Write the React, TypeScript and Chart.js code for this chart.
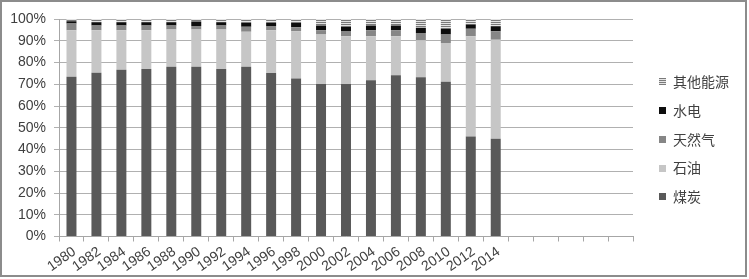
import { useEffect, useRef } from 'react';
import { Chart, registerables } from 'chart.js';

Chart.register(...registerables);

const years = ['1980', '1982', '1984', '1986', '1988', '1990', '1992', '1994', '1996', '1998', '2000', '2002', '2004', '2006', '2008', '2010', '2012', '2014'];
const emptyCategories = ['', '', '', '', ''];
const categories = [...years, ...emptyCategories];

const coal = [73.5, 75.3, 76.7, 77.0, 78.0, 78.0, 77.0, 78.1, 75.2, 72.7, 70.1, 70.1, 71.8, 74.1, 73.2, 71.2, 46.0, 44.9];
const oil = [21.3, 19.5, 18.1, 17.8, 17.2, 17.2, 18.2, 16.0, 19.6, 21.7, 22.8, 22.0, 20.3, 18.0, 17.0, 17.8, 46.1, 45.6];
const gas = [3.1, 2.2, 2.2, 2.2, 1.8, 1.6, 1.8, 2.3, 2.0, 1.8, 1.9, 2.1, 2.7, 2.7, 3.4, 3.9, 3.4, 3.9];
const hydro = [1.1, 1.5, 1.5, 1.5, 1.5, 2.0, 1.5, 1.8, 1.4, 2.0, 2.2, 2.2, 2.2, 2.2, 2.4, 2.6, 2.0, 2.3];
const other = [1.0, 1.5, 1.5, 1.5, 1.5, 1.2, 1.5, 1.8, 1.8, 1.8, 3.0, 3.6, 3.0, 3.0, 4.0, 4.5, 2.5, 3.3];

const seriesNames = ['煤炭', '石油', '天然气', '水电', '其他能源'];
const yTicks = [0, 10, 20, 30, 40, 50, 60, 70, 80, 90, 100];

function makeStripePattern(): CanvasPattern | string {
  const c = document.createElement('canvas');
  c.width = 2;
  c.height = 2;
  const g = c.getContext('2d');
  if (!g) return '#aaaaaa';
  g.fillStyle = '#e4e4e4';
  g.fillRect(0, 0, 2, 2);
  g.fillStyle = '#7a7a7a';
  g.fillRect(0, 0, 2, 1);
  const p = g.createPattern(c, 'repeat');
  return p || '#aaaaaa';
}

const legendPlugin = {
  id: 'sideLegend',
  afterDraw(chart: any) {
    const { ctx, chartArea } = chart;
    const ds = chart.data.datasets;
    ctx.save();
    ctx.font = '14px "Noto Sans CJK SC", sans-serif';
    ctx.textBaseline = 'middle';
    ctx.textAlign = 'left';
    let k = 0;
    for (let i = ds.length - 1; i >= 0; i--, k++) {
      const y = chartArea.top + 62.7 + k * 28.8;
      ctx.fillStyle = ds[i].backgroundColor;
      ctx.fillRect(chartArea.right + 26, Math.round(y - 3.5), 7, 7);
      ctx.fillStyle = '#404040';
      ctx.fillText(ds[i].label, chartArea.right + 40, y);
    }
    ctx.restore();
  },
};

export default function App() {
  const ref = useRef<HTMLCanvasElement>(null);

  useEffect(() => {
    const canvas = ref.current;
    if (!canvas) return;
    const stripe = makeStripePattern();
    const colors: any[] = ['#595959', '#c6c6c6', '#868686', '#0d0d0d', stripe];
    const values = [coal, oil, gas, hydro, other];

    const chart = new Chart(canvas, {
      type: 'bar',
      data: {
        labels: categories,
        datasets: values.map((v, i) => ({
          label: seriesNames[i],
          data: v,
          backgroundColor: colors[i],
          borderWidth: 0,
          categoryPercentage: 1,
          barPercentage: 0.4,
        })),
      },
      plugins: [legendPlugin],
      options: {
        animation: false,
        responsive: false,
        devicePixelRatio: 1,
        layout: { padding: { left: 0, top: 17, right: 112, bottom: 0 } },
        plugins: {
          legend: { display: false },
          tooltip: { enabled: false },
        },
        scales: {
          x: {
            stacked: true,
            offset: true,
            grid: {
              offset: true,
              drawOnChartArea: false,
              drawTicks: true,
              tickLength: 5,
              color: '#a6a6a6',
            },
            border: { display: true, color: '#a6a6a6' },
            ticks: {
              autoSkip: false,
              maxRotation: 35,
              minRotation: 35,
              padding: 2,
              labelOffset: 3,
              color: '#404040',
              font: { family: '"Liberation Sans", Arial, sans-serif', size: 14 },
            },
            afterFit: (scale: any) => {
              scale.height = 38.5;
            },
          },
          y: {
            stacked: true,
            min: 0,
            max: 100,
            afterBuildTicks: (scale: any) => {
              scale.ticks = yTicks.map((v) => ({ value: v }));
            },
            grid: {
              drawTicks: true,
              tickLength: 5,
              color: '#b0b0b0',
            },
            border: { display: true, color: '#a6a6a6' },
            ticks: {
              padding: 8,
              color: '#404040',
              font: { family: '"Liberation Sans", Arial, sans-serif', size: 14 },
              callback: (v: any) => v + '%',
            },
            afterFit: (scale: any) => {
              scale.width = 57;
            },
          },
        },
      },
    });
    return () => chart.destroy();
  }, []);

  return (
    <div
      style={{
        position: 'fixed',
        left: 0,
        top: 0,
        width: 747,
        height: 277,
        boxSizing: 'border-box',
        border: '2px solid #8c8c8c',
        background: '#fff',
      }}
    >
      <canvas ref={ref} width={743} height={273} style={{ display: 'block', width: 743, height: 273 }} />
    </div>
  );
}
